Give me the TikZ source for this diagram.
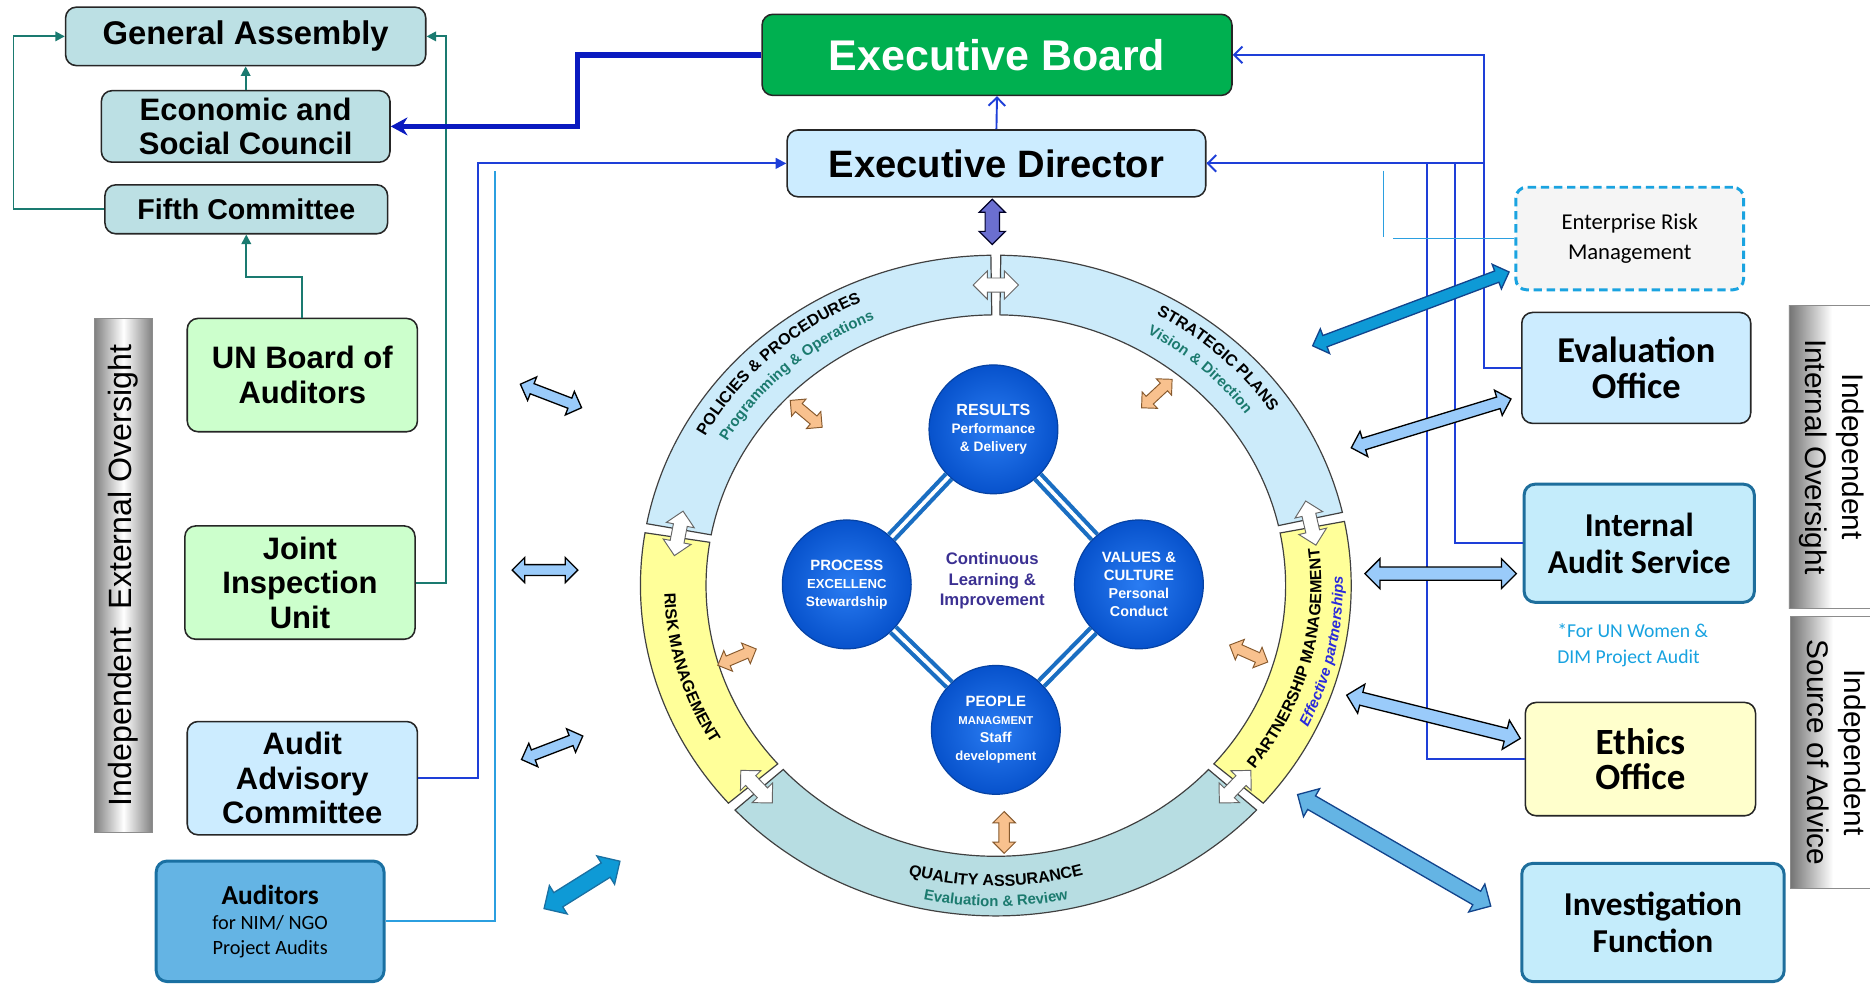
\documentclass[tikz,border=0pt]{standalone}
\usepackage{fontspec}
\setmainfont{Liberation Sans}
\newfontfamily\calfont{Carlito}
\usetikzlibrary{arrows.meta}
\usetikzlibrary{shapes.arrows}
\usetikzlibrary{decorations.text}

\definecolor{gabox}{HTML}{BCE0E4}
\definecolor{grnbox}{HTML}{CCFFCC}
\definecolor{ltbox}{HTML}{CCECFF}
\definecolor{iasbox}{HTML}{C4ECFB}
\definecolor{iasline}{HTML}{1E6E9C}
\definecolor{audbox}{HTML}{64B4E4}
\definecolor{audline}{HTML}{1A70A2}
\definecolor{ebgreen}{HTML}{00B050}
\definecolor{ethbox}{HTML}{FFFFCC}
\definecolor{ermline}{HTML}{1AA3E0}
\definecolor{tealline}{HTML}{1A7A70}
\definecolor{blueline}{HTML}{1E3FD8}
\definecolor{darkline}{HTML}{0A1AC0}
\definecolor{liteline}{HTML}{2B9FE0}
\definecolor{ringblue}{HTML}{CCEBFA}
\definecolor{ringyel}{HTML}{FFFF99}
\definecolor{ringteal}{HTML}{B7DDE2}
\definecolor{ringtext}{HTML}{1B7A6E}
\definecolor{pmtext}{HTML}{2A2ADC}
\definecolor{ballin}{HTML}{2A7CF2}
\definecolor{ballout}{HTML}{0752CC}
\definecolor{linkblue}{HTML}{1A6EC2}
\definecolor{arrblue}{HTML}{9ACBFA}
\definecolor{arrorange}{HTML}{F8C18E}
\definecolor{arrpurple}{HTML}{6B6FD0}
\definecolor{arrcyan}{HTML}{0E9AD6}
\definecolor{arrcyanline}{HTML}{12448C}
\definecolor{cltext}{HTML}{3B3092}
\definecolor{notetext}{HTML}{17A2E0}

\newcommand\ringbf{\fontsize{13.5}{14}\selectfont\bfseries}
\newcommand\ringsub{\fontsize{12.5}{13}\selectfont\bfseries\color{ringtext}}

\begin{document}
\begin{tikzpicture}[x=1pt, y=-1pt,
  orgbox/.style={draw=black!85, line width=1.3pt, rounded corners=9pt, align=center, inner sep=0pt},
  unbox/.style={orgbox, fill=gabox, font=\fontsize{26}{29}\selectfont\bfseries},
  extbox/.style={orgbox, minimum width=193pt, minimum height=95pt, font=\fontsize{26}{29}\selectfont\bfseries},
  calbox/.style={orgbox, font=\calfont\fontsize{28}{31}\selectfont\bfseries},
  sidelab/.style={draw=black!45, inner sep=0pt, font=\fontsize{25}{31}\selectfont},
  tline/.style={draw=tealline, line width=1.6pt},
  bline/.style={draw=blueline, line width=1.6pt},
  ringseg/.style={draw=black!75, line width=1pt},
  ball/.style={circle, minimum size=108pt, inner sep=0pt, inner color=ballin, outer color=ballout, draw=ballout!80!black, line width=1pt, text=white, align=center, font=\fontsize{12}{15}\selectfont\bfseries},
  link/.style={draw=linkblue, double=white, double distance=3pt, line width=3.5pt},
  dblarr/.style={double arrow, draw=black, line width=1.1pt, fill=arrblue, inner sep=4pt, double arrow head extend=6pt, minimum height=55pt},
  orarr/.style={double arrow, draw=brown!70!black, line width=0.8pt, fill=arrorange, inner sep=4pt, double arrow head extend=5pt, minimum height=35pt},
  wharr/.style={double arrow, draw=black!60, line width=0.8pt, fill=white, inner sep=5.5pt, double arrow head extend=6pt, minimum height=38pt},
  barb/.style={-{Straight Barb[length=7pt,width=14pt]}},
  tri/.style={-{Triangle[length=8pt,width=8pt]}}]

\useasboundingbox (0,0) rectangle (1568,825);

% left column
\node[unbox, minimum width=302pt, minimum height=49pt, font=\fontsize{27.5}{29}\selectfont\bfseries] (ga) at (206,30.5) {General Assembly};
\node[unbox, minimum width=242pt, minimum height=60pt] (esc) at (206,106) {Economic and\\Social Council};
\node[unbox, minimum width=237pt, minimum height=41pt, font=\fontsize{24}{26}\selectfont\bfseries] (fifth) at (206.5,175.5) {Fifth Committee};
\node[extbox, fill=grnbox] (unboa) at (253.5,314.5) {UN Board of\\Auditors};
\node[extbox, fill=grnbox] (jiu) at (251.5,488.5) {Joint\\Inspection\\Unit};
\node[extbox, fill=ltbox] (aac) at (253.5,652.5) {Audit\\Advisory\\Committee};
\node[orgbox, fill=audbox, draw=audline, line width=2.5pt, minimum width=191pt, minimum height=101pt, font=\calfont\fontsize{17}{21}\selectfont] (aud) at (226.5,772.5) {{\fontsize{23}{27}\selectfont\bfseries Auditors}\\for NIM/ NGO\\Project Audits};

\node[sidelab, minimum width=49pt, minimum height=431pt, left color=black!50, right color=black!50, middle color=white, font=\fontsize{27}{30}\selectfont] (extlab) at (103.5,482.5) {\rotatebox{90}{Independent~ External Oversight}};

% top
\node[orgbox, fill=ebgreen, minimum width=394pt, minimum height=68pt, text=white, font=\fontsize{36}{40}\selectfont\bfseries] (eb) at (836,46) {Executive Board};
\node[orgbox, fill=ltbox, minimum width=351pt, minimum height=56pt, font=\fontsize{32}{34}\selectfont\bfseries] (ed) at (835.5,137) {Executive Director};

% right column
\node[orgbox, fill=black!4, draw=ermline, dash pattern=on 7pt off 4pt, line width=2.5pt, minimum width=191pt, minimum height=86pt, font=\calfont\fontsize{19}{25}\selectfont] (erm) at (1366.5,200) {Enterprise Risk\\Management};
\node[calbox, fill=ltbox, minimum width=192pt, minimum height=93pt, font=\calfont\fontsize{30.5}{30}\selectfont\bfseries] (eval) at (1372,308.5) {Evaluation\\Office};
\node[calbox, fill=iasbox, draw=iasline, line width=2.5pt, minimum width=193pt, minimum height=99pt] (ias) at (1374.5,455.5) {Internal\\Audit Service};
\node[text=notetext, align=left, font=\calfont\fontsize{16.5}{21}\selectfont] (note) at (1369,541) {*For UN Women \&\\DIM Project Audit};
\node[calbox, fill=ethbox, minimum width=193pt, minimum height=95pt, font=\calfont\fontsize{31}{30}\selectfont\bfseries] (eth) at (1375.5,636.5) {Ethics\\Office};
\node[calbox, fill=iasbox, draw=iasline, line width=2.5pt, minimum width=220pt, minimum height=99pt] (inv) at (1386,773.5) {Investigation\\Function};

\node[sidelab, minimum width=72pt, minimum height=254pt, left color=black!55, right color=white, middle color=white] (intlab) at (1536,383) {\rotatebox{-90}{\begin{tabular}{@{}c@{}}Independent\\Internal Oversight\end{tabular}}};
\node[sidelab, minimum width=72pt, minimum height=228pt, left color=black!55, right color=white, middle color=white] (advlab) at (1537,631) {\rotatebox{-90}{\begin{tabular}{@{}c@{}}Independent\\Source of Advice\end{tabular}}};

% connectors
\draw[tline, tri] (esc.north) -- (ga.south);
\draw[tline, tri] (fifth.west) -- ++(-76,0) |- (ga.west);
\draw[tline, tri] (jiu.east) -- ++(25,0) |- (ga.east);
\draw[tline, tri] (unboa.north) -- ++(0,-34) -| (fifth.south);
\draw[draw=darkline, line width=4.5pt, -{Stealth[length=14pt,width=15pt]}] (eb.west) -- ++(-154,0) |- (esc.east);
\draw[bline, -{Triangle[length=9pt,width=9pt]}] (aac.east) -- ++(50,0) |- (ed.west);
\coordinate (audtop) at (415,143);
\draw[draw=liteline, line width=1.4pt] (aud.east) -| (audtop);
\draw[bline, barb] (ed.north) -- (eb.south);
\draw[bline, barb] (eval.west) -- ++(-31,0) |- (eb.east);
\draw[bline, barb] (eval.west) -- ++(-31,0) |- (ed.east);
\draw[bline] (ias.west) -- ++(-56.5,0) |- (ed.east);
\draw[bline] (eth.west) -- ++(-81.5,0) |- (ed.east);
\coordinate (ermend) at (1168,200);
\draw[draw=liteline, line width=1.4pt] (erm.west) -- (ermend);
\coordinate (stubtop) at (1160,143);
\coordinate (stubbot) at (1160,199);
\draw[draw=liteline, line width=1.4pt] (stubtop) -- (stubbot);

% ring
\begin{scope}[shift={(835,491)}]
  \draw[ringseg, fill=ringblue] (-169.2:298 and 277) arc[start angle=-169.2, end angle=-90.8, x radius=298, y radius=277] -- (-90.8:243 and 227) arc[start angle=-90.8, end angle=-169.2, x radius=243, y radius=227] -- cycle;
  \draw[ringseg, fill=ringblue] (-89.2:298 and 277) arc[start angle=-89.2, end angle=-12.8, x radius=298, y radius=277] -- (-12.8:243 and 227) arc[start angle=-12.8, end angle=-89.2, x radius=243, y radius=227] -- cycle;
  \draw[ringseg, fill=ringyel] (-11.2:298 and 277) arc[start angle=-11.2, end angle=41.2, x radius=298, y radius=277] -- (41.2:243 and 227) arc[start angle=41.2, end angle=-11.2, x radius=243, y radius=227] -- cycle;
  \draw[ringseg, fill=ringteal] (42.8:298 and 277) arc[start angle=42.8, end angle=137.2, x radius=298, y radius=277] -- (137.2:243 and 227) arc[start angle=137.2, end angle=42.8, x radius=243, y radius=227] -- cycle;
  \draw[ringseg, fill=ringyel] (138.8:298 and 277) arc[start angle=138.8, end angle=189.2, x radius=298, y radius=277] -- (189.2:243 and 227) arc[start angle=189.2, end angle=138.8, x radius=243, y radius=227] -- cycle;

  \path[decorate, decoration={text along path, text align=center, text={|\ringbf|POLICIES {\&} PROCEDURES}}] (-168:278 and 260) arc[start angle=-168, end angle=-98, x radius=278, y radius=260];
  \path[decorate, decoration={text along path, text align=center, text={|\ringsub|Programming {\&} Operations}}] (-167:260 and 242) arc[start angle=-167, end angle=-97, x radius=260, y radius=242];
  \path[decorate, decoration={text along path, text align=center, text={|\ringbf|STRATEGIC PLANS}}] (-82:278 and 260) arc[start angle=-82, end angle=-12, x radius=278, y radius=260];
  \path[decorate, decoration={text along path, text align=center, text={|\ringsub|Vision {\&} Direction}}] (-83:260 and 242) arc[start angle=-83, end angle=-13, x radius=260, y radius=242];
  \path[decorate, decoration={text along path, text align=center, text={|\ringbf|PARTNERSHIP MANAGEMENT}}] (45:273 and 254) arc[start angle=45, end angle=-15, x radius=273, y radius=254];
  \path[decorate, decoration={text along path, text align=center, text={|\fontsize{12.5}{13}\selectfont\bfseries\itshape\color{pmtext}|Effective partnerships}}] (42:291 and 271) arc[start angle=42, end angle=-18, x radius=291, y radius=271];
  \path[decorate, decoration={text along path, text align=center, text={|\ringbf|QUALITY ASSURANCE}}] (120:272 and 252) arc[start angle=120, end angle=60, x radius=272, y radius=252];
  \path[decorate, decoration={text along path, text align=center, text={|\ringsub|Evaluation {\&} Review}}] (120:289 and 269) arc[start angle=120, end angle=60, x radius=289, y radius=269];
  \path[decorate, decoration={text along path, text align=center, text={|\ringbf|RISK MANAGEMENT}}] (194:278 and 258) arc[start angle=194, end angle=134, x radius=278, y radius=258];

  \node[wharr] (wa1) at (-90:270 and 252) {};
  \node[wharr, rotate=103] (wa2) at (-12:270 and 252) {};
  \node[wharr, rotate=46] (wa3) at (42:270 and 252) {};
  \node[wharr, rotate=-46] (wa4) at (138:270 and 252) {};
  \node[wharr, rotate=79] (wa5) at (190:270 and 252) {};
\end{scope}

% centre
\node[ball] (res) at (833,360) {{\fontsize{13.5}{16}\selectfont RESULTS}\\{\fontsize{11.5}{15}\selectfont Performance}\\{\fontsize{11.5}{15}\selectfont \& Delivery}};
\node[ball] (proc) at (710,490) {{\fontsize{12.5}{16}\selectfont PROCESS}\\{\fontsize{11}{16}\selectfont EXCELLENC}\\{\fontsize{11.5}{16}\selectfont Stewardship}};
\node[ball] (val) at (955,490) {{\fontsize{12.5}{16}\selectfont VALUES \&}\\{\fontsize{12.5}{16}\selectfont CULTURE}\\{\fontsize{12}{16}\selectfont Personal}\\{\fontsize{12}{16}\selectfont Conduct}};
\node[ball] (ppl) at (835,612) {{\fontsize{12.5}{16}\selectfont PEOPLE}\\{\fontsize{9.5}{15}\selectfont MANAGMENT}\\{\fontsize{12}{16}\selectfont Staff}\\{\fontsize{11}{14}\selectfont development}};
\draw[link] (res) -- (proc);
\draw[link] (res) -- (val);
\draw[link] (proc) -- (ppl);
\draw[link] (val) -- (ppl);
\node[text=cltext, align=center, font=\fontsize{14}{17}\selectfont\bfseries] (cli) at (832,487) {Continuous\\Learning \&\\Improvement};

% block arrows
\node[double arrow, draw=black!85!blue, line width=1pt, fill=arrpurple, inner sep=5.5pt, double arrow head extend=5pt, minimum height=38pt, rotate=90] (edarr) at (832,186) {};
\node[orarr, rotate=-40] (oa1) at (676,347) {};
\node[orarr, rotate=43] (oa2) at (970,330) {};
\node[orarr, rotate=23] (oa3) at (618,551) {};
\node[orarr, rotate=-24] (oa4) at (1047,548) {};
\node[orarr, rotate=90] (oa5) at (842,698) {};

\node[dblarr, rotate=-21] (la1) at (462,332) {};
\node[dblarr] (la2) at (457,478) {};
\node[dblarr, rotate=21] (la3) at (463,627) {};
\node[dblarr, draw=audline, fill=arrcyan, inner sep=6.5pt, double arrow head extend=7pt, minimum height=75pt, rotate=32] (audarr) at (488,742) {};

\node[dblarr, draw=arrcyanline, fill=arrcyan, inner sep=4.5pt, minimum height=176pt, rotate=20.6] (ermarr) at (1183,259) {};
\node[dblarr, inner sep=4.5pt, minimum height=140pt, rotate=17] (evarr) at (1200,355) {};
\node[dblarr, inner sep=5pt, double arrow head extend=7pt, minimum height=127pt] (iasarr) at (1208,481) {};
\node[dblarr, inner sep=5pt, double arrow head extend=7pt, minimum height=150pt, rotate=-14] (etharr) at (1202,601) {};
\node[dblarr, draw=arrcyanline, fill=audbox, inner sep=6pt, double arrow head extend=7pt, minimum height=187pt, rotate=-30] (invarr) at (1169,713) {};
\end{tikzpicture}
\end{document}
